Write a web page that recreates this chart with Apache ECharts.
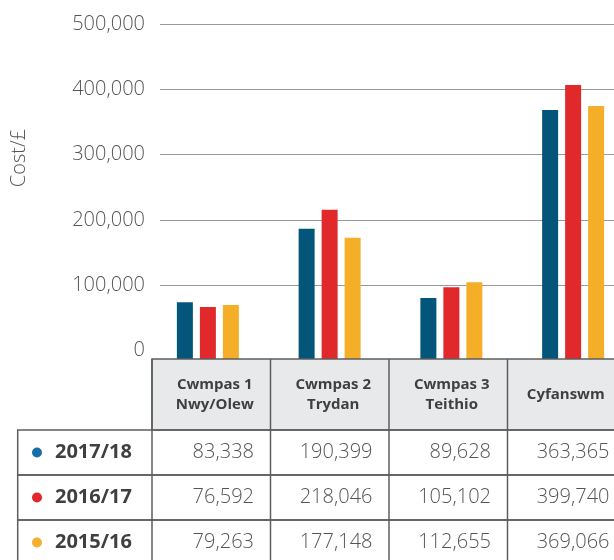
<!DOCTYPE html>
<html>
<head>
<meta charset="utf-8">
<script src="https://cdn.jsdelivr.net/npm/echarts@6/dist/echarts.min.js"></script>
<style>
html,body{margin:0;padding:0;background:#fff}
#main{width:614px;height:560px}
</style>
</head>
<body>
<div id="main"></div>
<script>
// 数据
const categories = ['Cwmpas 1\nNwy/Olew', 'Cwmpas 2\nTrydan', 'Cwmpas 3\nTeithio', 'Cyfanswm'];
const seriesNames = ['2017/18', '2016/17', '2015/16'];
const v2017 = [83338, 190399, 89628, 363365];
const v2016 = [76592, 218046, 105102, 399740];
const v2015 = [79263, 177148, 112655, 369066];
const yMin = 0, yMax = 500000, yStep = 100000;

const barColors = ['#03567a', '#e1282b', '#f4ae27'];
const dotColors = ['#1a6ea8', '#e3262b', '#f5b12d'];
const allValues = [v2017, v2016, v2015];

const fmt = v => Number(v).toLocaleString('en-US');
const FONT = '"Open Sans", "Noto Sans", sans-serif';

// 表格
const colLeft = 152, colW = 118.5, headTop = 359, headBottom = 430, rowH = 45, firstLeft = 17.7;
const lineC = '#5e5e5e';
let els = [];
// header 背景
els.push({type: 'rect', shape: {x: colLeft, y: headTop, width: 640 - colLeft, height: headBottom - headTop},
    style: {fill: '#e8e9eb', stroke: lineC, lineWidth: 1.5}, z: 10});
categories.forEach((c, i) => {
    let cx = colLeft + colW * i + colW / 2 + (i < 3 ? 3.5 : -1);
    els.push({type: 'text', x: cx, y: (headTop + headBottom) / 2, z: 12,
        style: {text: c, align: 'center', verticalAlign: 'middle', font: 'bold 15px ' + FONT, fill: '#3f3f3f', lineHeight: 20}});
    if (i > 0) {
        els.push({type: 'line', shape: {x1: colLeft + colW * i, y1: headTop, x2: colLeft + colW * i, y2: 560}, style: {stroke: lineC, lineWidth: 1.5}, z: 11});
    }
});
// 行
seriesNames.forEach((n, r) => {
    let top = headBottom + rowH * r;
    els.push({type: 'rect', shape: {x: firstLeft, y: top, width: 640 - firstLeft, height: rowH},
        style: {fill: 'none', stroke: lineC, lineWidth: 1.5}, z: 10});
    els.push({type: 'circle', shape: {cx: 37, cy: top + rowH / 2, r: 5}, style: {fill: dotColors[r]}, z: 12});
    els.push({type: 'text', x: 55, y: top + rowH / 2, z: 12,
        style: {text: n, align: 'left', verticalAlign: 'middle', font: 'bold 20px ' + FONT, fill: '#3f3f3f'}});
    allValues[r].forEach((v, i) => {
        els.push({type: 'text', x: colLeft + colW * (i + 1) - 16.5, y: top + rowH / 2, z: 12,
            style: {text: fmt(v), align: 'right', verticalAlign: 'middle', font: '300 20px ' + FONT, fill: '#555'}});
    });
});
els.push({type: 'line', shape: {x1: colLeft, y1: headTop, x2: colLeft, y2: 560}, style: {stroke: lineC, lineWidth: 1.5}, z: 11});
// y轴名称
els.push({type: 'text', x: 19, y: 158, rotation: Math.PI / 2, z: 12,
    style: {text: 'Cost/£', align: 'center', verticalAlign: 'middle', font: '300 20px ' + FONT, fill: '#555'}});

const option = {
    animation: false,
    grid: [
        {left: 160, top: 24, width: 480, height: 326.5, outerBoundsMode: 'none'},
        {left: 147, top: 16.2, width: 487, height: 343.3, outerBoundsMode: 'none'}
    ],
    xAxis: [
        {type: 'category', gridIndex: 0, data: categories, show: false},
        {type: 'category', gridIndex: 1, data: categories, show: false}
    ],
    yAxis: [
        {
            type: 'value', gridIndex: 0, min: yMin, max: yMax, interval: yStep,
            axisLine: {show: false}, axisTick: {show: false},
            axisLabel: {margin: 15, fontSize: 20, fontWeight: 300, fontFamily: FONT, color: '#555', formatter: fmt},
            splitLine: {show: true, showMinLine: false, lineStyle: {color: '#9a9a9a', width: 1}}
        },
        {type: 'value', gridIndex: 1, min: yMin, max: yMax, show: false, splitLine: {show: false}}
    ],
    series: seriesNames.map((n, i) => ({
        name: n, type: 'bar', xAxisIndex: 1, yAxisIndex: 1,
        data: allValues[i], barWidth: 16, barGap: '43.75%',
        itemStyle: {color: barColors[i]}
    })),
    graphic: {elements: els}
};

let chart = echarts.init(document.getElementById('main'));
chart.setOption(option);
</script>
</body>
</html>
